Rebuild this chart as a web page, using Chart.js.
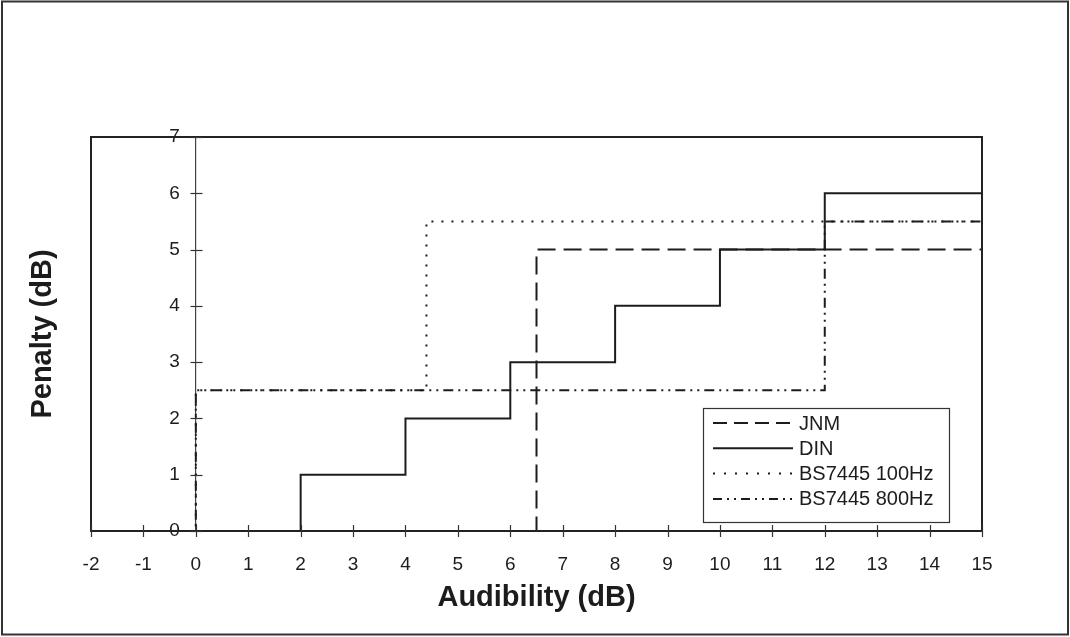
<!DOCTYPE html>
<html>
<head>
<meta charset="utf-8">
<script src="https://cdn.jsdelivr.net/npm/chart.js@4.4.1/dist/chart.umd.min.js"></script>
<style>
  html, body { margin: 0; padding: 0; background: #fff; }
  #wrap { width: 1070px; height: 637px; position: relative; }
</style>
</head>
<body>
<div id="wrap"><canvas id="c" width="1070" height="637"></canvas></div>
<script>
// ---- data (step breakpoints) ----
const seriesNames = ['JNM', 'DIN', 'BS7445 100Hz', 'BS7445 800Hz'];
const jnmX = [-2, 6.5, 15];
const jnmY = [0, 5, 5];
const dinX = [-2, 2, 4, 6, 8, 10, 12, 15];
const dinY = [0, 1, 2, 3, 4, 5, 6, 6];
const bs100X = [-2, 0, 4.4, 15];
const bs100Y = [0, 2.5, 5.5, 5.5];
const bs800X = [-2, 0, 12, 15];
const bs800Y = [0, 2.5, 5.5, 5.5];
const xMin = -2, xMax = 15;
const yMin = 0, yMax = 7;
const xTitle = 'Audibility (dB)';
const yTitle = 'Penalty (dB)';

function pts(xs, ys) { return xs.map((x, i) => ({ x: x, y: ys[i] })); }

const FONT = "'Liberation Sans', Arial, sans-serif";
const INK = '#1c1c1c';

const styles = [
  { dash: [18, 8], legendDash: [14, 7] },
  { dash: [], legendDash: [] },
  { dash: [2, 8], legendDash: [2, 9] },
  { dash: [10, 5, 2, 5, 2, 5], legendDash: [9, 5, 2, 5, 2, 5] }
];

const seriesData = [pts(jnmX, jnmY), pts(dinX, dinY), pts(bs100X, bs100Y), pts(bs800X, bs800Y)];

const datasets = seriesNames.map((name, i) => ({
  label: name,
  data: seriesData[i],
  stepped: 'before',
  borderColor: INK,
  borderWidth: 2,
  borderDash: styles[i].dash,
  pointRadius: 0,
  fill: false,
  tension: 0
}));

const Y_LABEL_GAP = 16;

const framePlugin = {
  id: 'frame',
  beforeDraw(chart) {
    const ctx = chart.ctx;
    ctx.save();
    ctx.fillStyle = '#fff';
    ctx.fillRect(0, 0, chart.width, chart.height);
    ctx.strokeStyle = '#333';
    ctx.lineWidth = 2;
    ctx.strokeRect(2, 1.5, 1066, 633);
    ctx.restore();
    // move the y tick labels left of the axis drawn at x = 0
    const ys = chart.scales.y;
    if (ys && ys._computeLabelItems) {
      const items = ys._computeLabelItems(chart.chartArea);
      items.forEach(it => {
        if (it.options && it.options.translation) it.options.translation[0] -= Y_LABEL_GAP;
      });
      ys._labelItems = items;
    }
  },
  afterDraw(chart) {
    const ctx = chart.ctx;
    const a = chart.chartArea;
    const xs = chart.scales.x, ys = chart.scales.y;
    ctx.save();
    // plot box
    ctx.strokeStyle = '#222';
    ctx.lineWidth = 2;
    ctx.setLineDash([]);
    ctx.strokeRect(a.left, a.top, a.right - a.left, a.bottom - a.top);
    // cross tick marks
    ctx.lineWidth = 1.2;
    ctx.strokeStyle = '#333';
    xs.ticks.forEach(t => {
      const px = Math.round(xs.getPixelForValue(t.value)) + 0.5;
      ctx.beginPath(); ctx.moveTo(px, a.bottom - 6); ctx.lineTo(px, a.bottom + 6); ctx.stroke();
    });
    const x0 = Math.round(xs.getPixelForValue(0)) + 0.5;
    ys.ticks.forEach(t => {
      const py = Math.round(ys.getPixelForValue(t.value)) + 0.5;
      ctx.beginPath(); ctx.moveTo(x0 - 6, py); ctx.lineTo(x0 + 6, py); ctx.stroke();
    });
    // legend
    const lx = 703, ly = 408, lw = 246, lh = 114;
    ctx.fillStyle = '#fff';
    ctx.fillRect(lx, ly, lw, lh);
    ctx.strokeStyle = '#333';
    ctx.lineWidth = 1.2;
    ctx.strokeRect(lx + 0.5, ly + 0.5, lw, lh);
    ctx.font = '20px ' + FONT;
    ctx.textBaseline = 'middle';
    ctx.textAlign = 'left';
    chart.data.datasets.forEach((ds, i) => {
      const cy = 423 + i * 25.3;
      ctx.strokeStyle = INK;
      ctx.lineWidth = 2;
      ctx.setLineDash(styles[i].legendDash);
      ctx.beginPath(); ctx.moveTo(713, cy); ctx.lineTo(793, cy); ctx.stroke();
      ctx.setLineDash([]);
      ctx.fillStyle = INK;
      ctx.fillText(ds.label, 799, cy + 1);
    });
    ctx.restore();
  }
};

new Chart(document.getElementById('c'), {
  type: 'line',
  data: { datasets: datasets },
  options: {
    responsive: false,
    animation: false,
    events: [],
    layout: { padding: { left: 0, right: 88, top: 137, bottom: 0 } },
    plugins: { legend: { display: false }, tooltip: { enabled: false }, title: { display: false } },
    scales: {
      x: {
        type: 'linear',
        position: 'bottom',
        min: xMin, max: xMax,
        grid: { display: false, drawTicks: false },
        border: { display: false },
        ticks: { stepSize: 1, color: INK, font: { family: FONT, size: 19 }, padding: 22, maxRotation: 0, autoSkip: false },
        title: { display: true, text: xTitle, color: INK, font: { family: FONT, size: 29, weight: 'bold' }, padding: { top: 0, bottom: 22 } },
        afterFit(s) { s.height = 106; s.paddingLeft = 0; s.paddingRight = 0; }
      },
      y: {
        type: 'linear',
        position: { x: 0 },
        min: yMin, max: yMax,
        grid: { display: false, drawTicks: false },
        border: { display: true, color: '#444', width: 1.2 },
        ticks: { stepSize: 1, color: INK, font: { family: FONT, size: 19 }, padding: 16 },
        afterFit(s) { s.paddingTop = 0; s.paddingBottom = 0; }
      },
      yTitle: {
        type: 'linear',
        axis: 'y',
        position: 'left',
        min: yMin, max: yMax,
        grid: { display: false, drawTicks: false },
        border: { display: false },
        ticks: { display: false },
        title: { display: true, text: yTitle, color: INK, font: { family: FONT, size: 29, weight: 'bold' }, padding: { top: 26, bottom: 0 } },
        afterFit(s) { s.width = 91; s.paddingTop = 0; s.paddingBottom = 0; }
      }
    }
  },
  plugins: [framePlugin]
});
</script>
</body>
</html>
